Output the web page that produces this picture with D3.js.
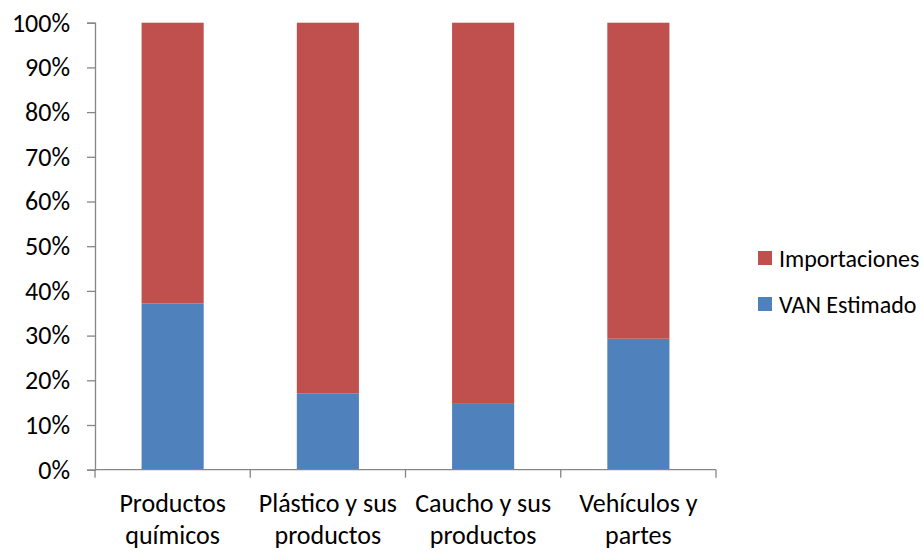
<!DOCTYPE html>
<html>
<head>
<meta charset="utf-8">
<script src="https://cdn.jsdelivr.net/npm/d3@7"></script>
<style>
  html, body { margin: 0; padding: 0; background: #fff; }
  svg { display: block; }
  text { font-family: Calibri, Carlito, Lato, sans-serif; fill: #000; }
</style>
</head>
<body>
<svg id="chart" width="923" height="552"></svg>
<script>
const categories = [["Productos", "químicos"], ["Plástico y sus", "productos"], ["Caucho y sus", "productos"], ["Vehículos y", "partes"]];
const vanEstimado = [0.372, 0.171, 0.149, 0.293];
const importaciones = [0.628, 0.829, 0.851, 0.707];
const seriesNames = ["VAN Estimado", "Importaciones"];
const seriesColors = ["#4F81BD", "#C0504D"];
const yTicks = [0, 0.1, 0.2, 0.3, 0.4, 0.5, 0.6, 0.7, 0.8, 0.9, 1.0];

(function () {
const svg = d3.select("#chart");
const mLeft = 95, mRight = 716, mTop = 22.7, mBottom = 469.7;
const axisFont = 26, legendFont = 24;

const x = d3.scaleBand().domain(d3.range(categories.length)).range([mLeft, mRight]).paddingInner(0.6).paddingOuter(0.3);
const y = d3.scaleLinear().domain([0, 1]).range([mBottom, mTop]);

const rows = categories.map((c, i) => ({ i, van: vanEstimado[i], imp: importaciones[i] }));
const stack = d3.stack().keys(["van", "imp"])(rows);

svg.append("g").selectAll("g").data(stack).join("g")
  .attr("fill", (d, k) => seriesColors[k])
  .selectAll("rect").data(d => d).join("rect")
  .attr("x", d => x(d.data.i))
  .attr("width", x.bandwidth())
  .attr("y", d => y(d[1]))
  .attr("height", d => y(d[0]) - y(d[1]));

// Y axis
const yAxis = svg.append("g").attr("transform", `translate(${mLeft},0)`)
  .call(d3.axisLeft(y).tickValues(yTicks).tickFormat(d3.format(".0%")).tickSize(8).tickPadding(17));
yAxis.select(".domain").attr("stroke", "#868686").attr("stroke-width", 1.3);
yAxis.selectAll(".tick line").attr("stroke", "#868686").attr("stroke-width", 1.3);
yAxis.selectAll(".tick text").attr("font-size", axisFont).attr("font-family", "Calibri, Carlito, Lato, sans-serif").attr("fill", "#000");

// X axis
const xEdge = d3.scaleLinear().domain([0, categories.length]).range([mLeft, mRight]);
const xAxisG = svg.append("g");
xAxisG.append("line").attr("x1", mLeft).attr("x2", mRight).attr("y1", mBottom).attr("y2", mBottom)
  .attr("stroke", "#868686").attr("stroke-width", 1.3);
xAxisG.selectAll("line.tk").data(d3.range(categories.length + 1)).join("line").attr("class", "tk")
  .attr("x1", d => xEdge(d)).attr("x2", d => xEdge(d))
  .attr("y1", mBottom).attr("y2", mBottom + 8)
  .attr("stroke", "#868686").attr("stroke-width", 1.3);
const lbl = xAxisG.selectAll("text").data(categories).join("text")
  .attr("text-anchor", "middle").attr("font-size", axisFont);
lbl.selectAll("tspan").data((d, i) => d.map(t => ({ t, i }))).join("tspan")
  .attr("x", d => x(d.i) + x.bandwidth() / 2)
  .attr("y", (d, j) => 512 + j * 32)
  .text(d => d.t);

// Legend
const legend = svg.append("g");
const legendItems = [1, 0];
legendItems.forEach((k, j) => {
  const ly = 258 + j * 46;
  legend.append("rect").attr("x", 758).attr("y", ly - 7).attr("width", 14).attr("height", 14).attr("fill", seriesColors[k]);
  legend.append("text").attr("x", 779).attr("y", ly).attr("dominant-baseline", "central")
    .attr("font-size", legendFont).text(seriesNames[k]);
});
})();
</script>
</body>
</html>
